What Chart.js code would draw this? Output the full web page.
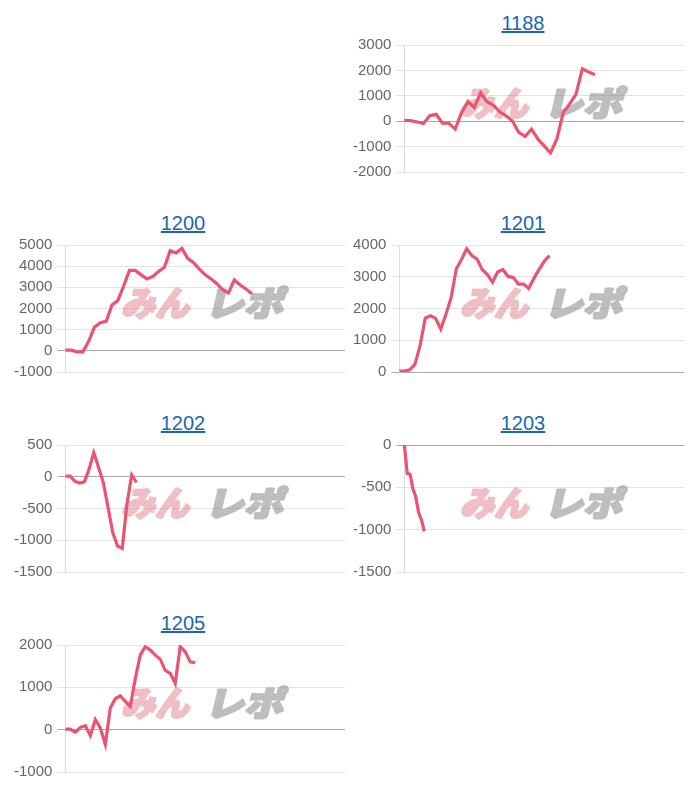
<!DOCTYPE html>
<html><head><meta charset="utf-8">
<script src="https://cdn.jsdelivr.net/npm/chart.js@4.4.1/dist/chart.umd.min.js"></script>
<style>
body{margin:0;background:#fff;width:700px;height:800px;position:relative;overflow:hidden;font-family:"Liberation Sans",Arial,sans-serif;}
.block{position:absolute;width:340px;height:200px;}
.block .ttl{position:absolute;top:13px;width:338px;text-align:center;font-size:20px;line-height:20px;}
.block .ttl a{color:#1a68ae;text-decoration:underline;}
.block canvas{position:absolute;left:0;top:31px;}
</style></head><body>
<script>
// machine numbers (chart titles)
const titles = ['1188', '1200', '1201', '1202', '1203', '1205'];

// series values (差枚)
const values1188 = [30, 20, -30, -90, 220, 270, -80, -80, -310, 340, 770, 540, 1120, 770, 630, 370, 210, 10, -440, -600, -310, -700, -970, -1250, -700, 340, 670, 1060, 2060, 1940, 1830];
const values1200 = [30, 30, -50, -50, 450, 1120, 1330, 1390, 2170, 2370, 3060, 3800, 3800, 3590, 3400, 3510, 3750, 3950, 4730, 4620, 4840, 4370, 4160, 3860, 3590, 3400, 3170, 2890, 2730, 3350, 3110, 2920, 2700];
const values1201 = [30, 30, 70, 240, 830, 1700, 1770, 1690, 1350, 1820, 2340, 3250, 3540, 3880, 3670, 3560, 3230, 3070, 2830, 3150, 3230, 3010, 2980, 2770, 2770, 2630, 2950, 3230, 3490, 3670];
const values1202 = [10, 10, -70, -100, -80, 120, 380, 150, -90, -480, -880, -1090, -1130, -430, 30, -90];
const values1203 = [0, -335, -345, -520, -610, -800, -885, -1020];
const values1205 = [15, 15, -60, 55, 95, -140, 235, 40, -350, 510, 730, 800, 665, 550, 1210, 1760, 1960, 1880, 1760, 1665, 1400, 1330, 1095, 1960, 1840, 1600, 1580];

// number of x categories on each chart's (hidden) x axis
const xCounts = [45, 49, 56, 60, 99, 57];

// y axis ranges and tick steps
const yMins  = [-2000, -1000, 0, -1500, -1500, -1000];
const yMaxs  = [3000, 5000, 4000, 500, 0, 2000];
const ySteps = [1000, 1000, 1000, 500, 500, 1000];

const allValues = [values1188, values1200, values1201, values1202, values1203, values1205];
// block placement: [left, top, title centre x]
const positions = [[348, 0, 523], [9, 200, 183], [348, 200, 523], [9, 400, 183], [348, 400, 523], [9, 600, 183]];

// pre-render the watermark once (opaque), then draw it translucent on each chart
function makeMark(text, color, sx) {
  const c = document.createElement('canvas');
  c.width = 110; c.height = 44;
  const g = c.getContext('2d');
  g.font = "900 34px 'Noto Sans CJK JP'";
  g.textBaseline = 'middle';
  g.fillStyle = color; g.strokeStyle = color; g.lineWidth = 2.4; g.lineJoin = 'round';
  g.translate(8, 22);
  g.transform(sx, 0, -0.24, 1, 0, 0);
  g.fillText(text, 0, 0);
  g.strokeText(text, 0, 0);
  return c;
}
const markPink = makeMark('みん', 'rgb(218,108,120)', 1.0);
const markGray = makeMark('レポ', 'rgb(120,120,120)', 1.15);

const watermark = {
  id: 'watermark',
  beforeDatasetsDraw(chart) {
    const ctx = chart.ctx;
    ctx.save();
    ctx.globalAlpha = 0.43;
    ctx.drawImage(markPink, 107, 50);
    ctx.globalAlpha = 0.48;
    ctx.drawImage(markGray, 191, 50);
    ctx.restore();
  }
};

allValues.forEach((vals, i) => {
  const blk = document.createElement('div');
  blk.className = 'block';
  blk.style.left = positions[i][0] + 'px';
  blk.style.top = positions[i][1] + 'px';
  const t = document.createElement('div');
  t.className = 'ttl';
  t.style.left = (positions[i][2] - positions[i][0] - 169) + 'px';
  const a = document.createElement('a');
  a.href = '#';
  a.textContent = titles[i];
  t.appendChild(a);
  blk.appendChild(t);
  const cv = document.createElement('canvas');
  cv.width = 337; cv.height = 155;
  cv.style.width = '337px'; cv.style.height = '155px';
  blk.appendChild(cv);
  document.body.appendChild(blk);

  const labels = Array.from({length: xCounts[i]}, (_, k) => String(k + 1));
  new Chart(cv.getContext('2d'), {
    type: 'line',
    data: {
      labels: labels,
      datasets: [{
        data: vals,
        borderColor: '#ea5470',
        borderWidth: 3.2,
        pointRadius: 0,
        tension: 0,
        fill: false
      }]
    },
    options: {
      responsive: false,
      animation: false,
      devicePixelRatio: 1,
      layout: { padding: { right: 1 } },
      plugins: { legend: { display: false }, tooltip: { enabled: false } },
      scales: {
        x: { display: false },
        y: {
          min: yMins[i], max: yMaxs[i],
          ticks: {
            stepSize: ySteps[i],
            autoSkip: false,
            padding: 5,
            color: '#666',
            font: { size: 15, family: "'Liberation Sans', Arial, sans-serif" },
            callback: (v) => String(v)
          },
          grid: {
            color: (c) => (c.tick && c.tick.value === 0) ? '#a8a8a8' : '#e3e3e3',
            lineWidth: 1
          },
          border: { color: '#dcdcdc' }
        }
      }
    },
    plugins: [watermark]
  });
});
</script>
</body></html>
